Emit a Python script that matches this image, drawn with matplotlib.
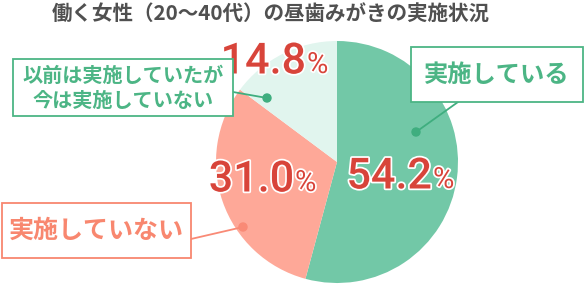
import matplotlib.pyplot as plt
import matplotlib.patheffects as pe
from matplotlib.patches import Rectangle, Circle

# Data
categories = ['実施している', '実施していない', '以前は実施していたが\n今は実施していない']
shares = [54.2, 31.0, 14.8]
pct_labels = ['54.2', '31.0', '14.8']
title = '働く女性（20～40代）の昼歯みがきの実施状況'

W, H = 584, 284
CJK = ['Noto Sans CJK JP', 'DejaVu Sans']

def Y(y):
    # image pixel row -> axis y
    return H - y

fig = plt.figure(figsize=(W / 100, H / 100), dpi=100)
ax = fig.add_axes([0, 0, 1, 1])

pie_colors = ['#72c8a7', '#fea898', '#e1f5ee']
ax.pie(shares, colors=pie_colors, startangle=90, counterclock=False,
       center=(337, Y(162)), radius=121, frame=True,
       wedgeprops=dict(linewidth=0))
ax.set_xlim(0, W)
ax.set_ylim(0, H)
ax.set_aspect('equal')
ax.axis('off')

# title
ax.text(271, Y(14), title, ha='center', va='center', fontsize=14.8,
        color='#505050', family=CJK, weight='bold')

# percentages
red = '#d8443a'
stroke = [pe.withStroke(linewidth=2.5, foreground='white')]
pct_pos = [(432, 177), (294, 180), (306, 62)]
for lab, (x, y) in zip(pct_labels, pct_pos):
    ax.text(x, Y(y), lab, ha='right', va='center', fontsize=31, color=red,
            family='Roboto', weight='medium', path_effects=stroke)
    ax.text(x + 1, Y(y + 3), '%', ha='left', va='center', fontsize=21,
            color=red, family='Roboto', path_effects=stroke)

# label boxes
green_txt = '#4cb585'
green_dot = '#3fae7f'
salmon_txt = '#f8876f'
salmon_dot = '#f98a76'

def box(x0, y0, x1, y1, color):
    ax.add_patch(Rectangle((x0, Y(y1)), x1 - x0, y1 - y0, facecolor='white',
                           edgecolor=color, linewidth=1.3, zorder=5))

def leader(p0, p1, color):
    ax.plot([p0[0], p1[0]], [Y(p0[1]), Y(p1[1])], color=color, lw=1.3, zorder=4)
    ax.add_patch(Circle((p1[0], Y(p1[1])), 4, color=color, zorder=4))

# 実施している
leader((458, 102), (416, 132), green_dot)
box(411, 47, 583, 102, green_txt)
ax.text(497, Y(75), categories[0], ha='center', va='center', fontsize=17.5,
        color=green_txt, family=CJK, weight='bold', zorder=6)

# 以前は実施していたが / 今は実施していない
leader((233, 92), (267, 98), green_dot)
box(13, 59, 233, 116, green_txt)
lines = categories[2].split('\n')
ax.text(123, Y(75), lines[0], ha='center', va='center', fontsize=14.5,
        color=green_txt, family=CJK, weight='bold', zorder=6)
ax.text(123, Y(100), lines[1], ha='center', va='center', fontsize=14.5,
        color=green_txt, family=CJK, weight='bold', zorder=6)

# 実施していない
leader((191, 239), (243, 227), salmon_dot)
box(2, 203, 191, 258, salmon_txt)
ax.text(96, Y(231), categories[1], ha='center', va='center', fontsize=18,
        color=salmon_txt, family=CJK, weight='bold', zorder=6)

fig.savefig('out.png', dpi=100)
